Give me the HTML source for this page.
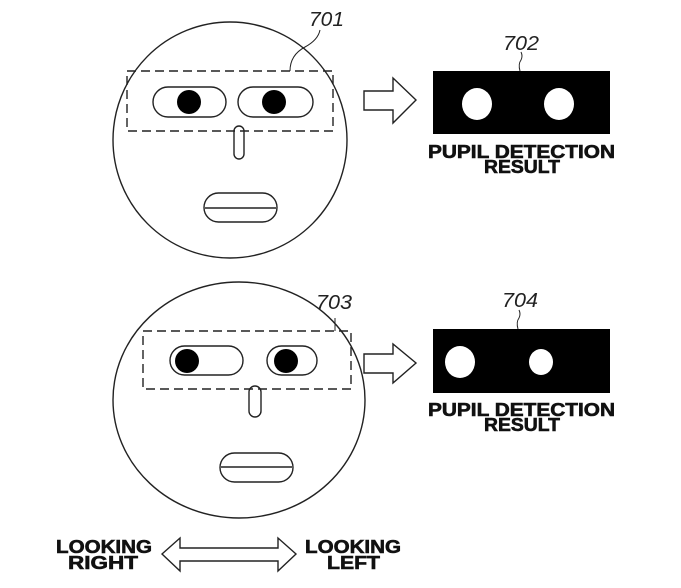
<!DOCTYPE html>
<html><head><style>body{margin:0;background:#fff}svg{display:block}</style></head><body>
<svg width="681" height="588" viewBox="0 0 681 588" xmlns="http://www.w3.org/2000/svg" font-family="Liberation Sans, sans-serif">
<g fill="none" stroke="#222" stroke-width="1.4">
<!-- top face -->
<ellipse cx="230" cy="140" rx="117" ry="118"/>
<rect x="127" y="71" width="206" height="60" stroke-dasharray="9,5"/>
<rect x="153" y="87" width="73" height="30" rx="15"/>
<rect x="238" y="87" width="75" height="30" rx="15"/>
<rect x="234" y="126" width="10" height="33" rx="5"/>
<rect x="204" y="193" width="73" height="29" rx="14.5"/>
<line x1="205" y1="208" x2="276" y2="208"/>
<path d="M290 71 Q290 55 305 47 Q318 40 320 30" stroke-width="1"/>
<!-- bottom face -->
<ellipse cx="239" cy="400" rx="126" ry="118"/>
<rect x="143" y="331" width="208" height="58" stroke-dasharray="9,5"/>
<rect x="170" y="346" width="73" height="29" rx="14.5"/>
<rect x="267" y="346" width="50" height="29" rx="14.5"/>
<rect x="249" y="386" width="12" height="31" rx="6"/>
<rect x="220" y="453" width="73" height="29" rx="14.5"/>
<line x1="221" y1="467" x2="292" y2="467"/>
<path d="M335 331 L335 318" stroke-width="1"/>
<!-- arrows -->
<path d="M364 91 L393 91 L393 78 L416 100 L393 123 L393 110 L364 110 Z"/>
<path d="M364 354 L393 354 L393 344 L416 363 L393 383 L393 373 L364 373 Z"/>
<path d="M162 554 L180 538 L180 548 L278 548 L278 538 L296 554 L278 571 L278 561 L180 561 L180 571 Z"/>
<path d="M520 71 Q518 64 521 60 Q523 56 521 52" stroke-width="1"/>
<path d="M518 329 Q516 322 519 318 Q521 314 519 310" stroke-width="1"/>
</g>
<g fill="#000">
<circle cx="189" cy="102" r="12"/><circle cx="274" cy="102" r="12"/>
<circle cx="187" cy="361" r="12"/><circle cx="286" cy="361" r="12"/>
<rect x="433" y="71" width="177" height="63"/>
<rect x="433" y="329" width="177" height="64"/>
</g>
<g fill="#fff">
<ellipse cx="477" cy="104" rx="15" ry="16"/><ellipse cx="559" cy="104" rx="15" ry="16"/>
<ellipse cx="460" cy="362" rx="15" ry="16"/><ellipse cx="541" cy="362" rx="12" ry="13"/>
</g>
<g font-style="italic" font-size="20" fill="#222">
<text x="309" y="26" textLength="35" lengthAdjust="spacingAndGlyphs">701</text>
<text x="503" y="50" textLength="36" lengthAdjust="spacingAndGlyphs">702</text>
<text x="316" y="309" textLength="36" lengthAdjust="spacingAndGlyphs">703</text>
<text x="502" y="307" textLength="36" lengthAdjust="spacingAndGlyphs">704</text>
</g>
<g font-weight="bold" font-size="18" fill="#111" stroke="#111" stroke-width="0.6">
<text x="428" y="158" textLength="187" lengthAdjust="spacingAndGlyphs">PUPIL DETECTION</text>
<text x="484" y="173" textLength="76" lengthAdjust="spacingAndGlyphs">RESULT</text>
<text x="428" y="416" textLength="187" lengthAdjust="spacingAndGlyphs">PUPIL DETECTION</text>
<text x="484" y="431" textLength="76" lengthAdjust="spacingAndGlyphs">RESULT</text>
<text x="56" y="553" textLength="96" lengthAdjust="spacingAndGlyphs">LOOKING</text>
<text x="68" y="569" textLength="70" lengthAdjust="spacingAndGlyphs">RIGHT</text>
<text x="305" y="553" textLength="96" lengthAdjust="spacingAndGlyphs">LOOKING</text>
<text x="327" y="569" textLength="53" lengthAdjust="spacingAndGlyphs">LEFT</text>
</g>
</svg>
</body></html>
